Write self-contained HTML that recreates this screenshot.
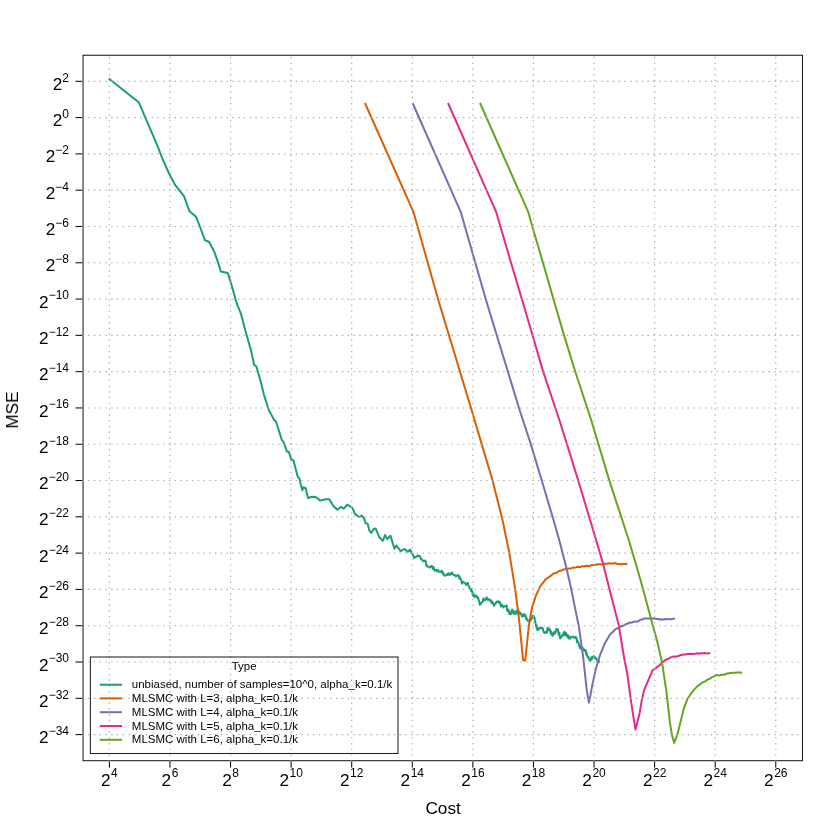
<!DOCTYPE html>
<html><head><meta charset="utf-8"><title>MSE vs Cost</title>
<style>html,body{margin:0;padding:0;background:#fff}body{width:830px;height:830px;overflow:hidden;font-family:"Liberation Sans",sans-serif}</style>
</head><body>
<svg width="830" height="830" viewBox="0 0 830 830" style="display:block">
<rect width="830" height="830" fill="#fff"/>
<g fill="none" stroke-width="2" stroke-linejoin="round" stroke-linecap="butt">
<path d="M108.7,78.5 L138.7,102.2 L157.8,146.7 L163.0,160.0 L168.8,173.0 L174.9,184.6 L184.0,196.1 L189.3,210.9 L196.0,216.7 L199.9,226.5 L204.9,240.2 L209.0,241.7 L214.3,251.8 L217.9,261.9 L220.8,271.5 L227.7,273.0 L231.0,283.1 L236.7,303.4 L241.1,314.2 L245.4,330.8 L251.2,351.1 L254.1,364.8 L256.3,366.3 L260.3,380.0 L263.9,394.6 L268.9,410.5 L271.1,414.1 L274.0,419.9 L275.9,421.3 L281.9,440.1 L283.4,441.6 L287.0,451.7 L288.9,451.7 L291.3,459.6 L293.5,460.4 L297.8,477.0 L299.3,478.1 L300.8,484.5 L302.3,490.2 L303.3,487.3 L305.6,488.1 L308.1,498.2 L311.0,497.0 L315.3,496.7 L320.4,500.6 L325.4,499.3 L329.3,499.2 L333.4,506.1 L337.4,509.8 L340.9,506.9 L343.8,508.7 L347.1,504.7 L352.2,507.6 L355.1,514.1 L359.1,517.0 L361.6,515.5 L363.7,517.7 L365.6,523.1 L367.6,523.8 L369.5,530.7 L371.0,532.9 L373.9,528.8 L375.7,528.6 L379.3,537.2 L382.8,540.8 L385.0,535.1 L387.2,539.1 L390.5,535.8 L394.4,548.8 L394.9,548.0 L395.4,547.1 L395.8,546.3 L396.3,545.5 L396.9,546.1 L397.5,547.1 L398.1,547.9 L398.8,548.5 L399.4,549.6 L400.0,550.2 L400.6,551.2 L401.5,550.7 L402.3,550.0 L403.2,549.5 L404.0,549.4 L404.9,549.0 L405.5,550.0 L406.0,550.0 L406.6,550.8 L407.2,551.8 L407.9,551.4 L408.6,551.3 L409.4,550.2 L410.1,549.6 L410.5,550.3 L410.9,552.0 L411.3,551.4 L411.7,553.5 L412.1,553.4 L412.6,554.0 L413.0,554.8 L413.4,555.9 L413.8,557.6 L414.2,557.9 L415.0,556.8 L415.8,557.1 L416.5,556.7 L417.3,555.6 L418.1,555.4 L418.7,556.2 L419.4,555.8 L420.0,556.5 L420.6,557.6 L421.2,559.5 L421.9,559.6 L422.5,560.0 L423.1,561.2 L424.2,561.1 L425.3,560.5 L425.5,561.3 L425.8,561.9 L426.0,564.2 L426.2,564.9 L426.5,564.6 L426.7,566.3 L427.7,566.6 L428.6,566.5 L429.6,567.6 L430.6,567.2 L431.5,565.9 L432.5,566.6 L433.0,569.0 L433.5,566.9 L434.1,568.7 L434.6,570.7 L435.1,570.6 L436.1,569.7 L437.1,571.2 L438.0,569.9 L439.0,571.8 L439.9,572.0 L440.7,571.9 L441.6,570.6 L442.1,571.7 L442.7,573.6 L443.2,572.5 L443.7,574.7 L444.3,575.2 L444.8,575.7 L445.7,575.4 L446.6,574.3 L447.5,575.0 L448.4,573.2 L449.3,575.0 L450.2,573.5 L451.0,574.4 L451.9,572.4 L452.8,574.2 L453.8,575.1 L454.8,575.0 L455.8,576.4 L456.8,575.9 L457.8,574.9 L458.2,574.9 L458.7,576.2 L459.1,578.0 L459.6,576.5 L460.0,579.0 L460.4,578.7 L460.9,579.4 L461.3,580.0 L461.8,583.5 L462.2,583.3 L463.2,581.9 L464.2,582.5 L465.2,583.1 L466.2,585.0 L467.2,583.6 L467.8,582.8 L468.4,585.1 L469.0,586.3 L469.6,588.5 L470.2,589.1 L470.8,588.7 L471.2,591.0 L471.5,589.6 L471.9,590.9 L472.3,591.6 L472.6,594.5 L473.0,595.7 L473.4,593.4 L473.8,594.3 L474.1,595.4 L474.5,597.3 L475.6,595.5 L476.6,595.9 L477.0,596.7 L477.4,598.0 L477.8,597.6 L478.2,597.5 L478.6,600.0 L479.0,600.7 L479.4,602.4 L479.8,604.8 L480.2,603.9 L480.8,603.9 L481.4,602.5 L482.0,602.2 L482.7,601.7 L483.3,598.4 L483.9,599.5 L484.8,600.4 L485.8,599.2 L486.7,597.3 L487.4,599.6 L488.2,600.0 L488.9,599.1 L489.7,599.8 L490.4,601.0 L491.0,600.2 L491.6,603.2 L492.2,601.7 L492.8,602.5 L493.4,603.9 L494.0,606.0 L494.7,604.0 L495.4,604.1 L496.1,602.3 L496.9,601.5 L497.6,601.5 L498.3,602.4 L498.9,601.3 L499.6,603.1 L500.2,602.3 L500.9,606.6 L501.5,606.1 L502.1,604.7 L502.8,605.8 L503.4,607.5 L504.4,606.4 L505.3,606.0 L506.3,606.2 L506.6,605.4 L507.0,609.5 L507.3,611.0 L507.7,609.5 L508.0,610.5 L508.4,609.6 L508.7,610.5 L509.1,612.4 L509.4,614.0 L510.1,612.4 L510.8,614.3 L511.6,610.7 L512.3,609.5 L513.0,611.1 L513.5,613.9 L514.1,612.7 L514.7,611.7 L515.2,614.0 L515.9,613.6 L516.6,610.7 L517.4,612.4 L518.1,613.9 L518.8,611.1 L519.3,613.6 L519.8,613.7 L520.2,612.5 L520.7,613.8 L521.2,613.7 L521.7,616.1 L522.4,616.6 L523.2,614.8 L523.9,614.0 L524.5,616.1 L525.0,614.9 L525.6,615.3 L526.1,618.9 L526.7,618.3 L527.7,621.0 L528.6,620.9 L529.6,619.8 L530.3,620.5 L531.1,619.8 L531.8,618.7 L532.6,615.6 L533.3,616.1 L533.6,617.1 L533.9,617.3 L534.2,616.7 L534.5,617.6 L534.8,619.7 L535.1,620.6 L535.4,622.6 L535.8,624.4 L536.1,626.5 L536.5,625.1 L536.8,628.3 L537.2,629.4 L537.6,630.2 L537.9,628.4 L538.3,629.9 L539.3,628.1 L540.2,627.6 L541.2,628.4 L541.9,627.6 L542.7,628.3 L543.4,630.9 L544.1,632.8 L544.8,633.1 L545.6,632.1 L546.3,632.8 L546.6,632.7 L547.0,632.5 L547.3,628.3 L547.7,630.1 L548.0,630.4 L548.4,627.7 L548.9,629.8 L549.3,630.5 L549.8,630.0 L550.2,629.5 L550.6,633.1 L551.1,631.8 L551.5,634.8 L552.0,634.2 L552.7,635.8 L553.5,632.5 L554.2,631.9 L554.9,633.8 L555.6,632.2 L556.4,629.0 L557.1,629.9 L557.6,629.1 L558.0,630.1 L558.5,634.5 L558.9,634.9 L559.4,632.8 L559.8,636.8 L560.2,638.4 L560.7,637.1 L561.4,637.2 L562.2,635.2 L562.9,635.5 L563.6,632.9 L564.3,631.8 L565.1,635.6 L565.8,632.8 L566.3,634.2 L566.9,634.4 L567.4,637.0 L568.0,635.4 L568.5,638.1 L569.0,638.6 L569.6,636.5 L570.1,638.6 L571.1,637.2 L572.1,637.0 L573.2,636.5 L574.2,637.8 L575.2,637.1 L575.7,636.8 L576.1,638.4 L576.5,637.8 L577.0,642.2 L577.5,640.5 L577.9,641.8 L578.3,643.2 L578.8,643.6 L579.2,646.3 L579.6,644.9 L580.0,648.0 L580.5,646.9 L580.9,647.9 L581.3,648.7 L581.7,649.4 L582.6,647.7 L583.5,650.2 L584.4,649.6 L585.3,651.6 L585.7,650.2 L586.2,654.7 L586.6,652.7 L587.0,654.9 L587.5,656.9 L587.9,657.0 L588.3,656.8 L588.7,658.6 L589.2,659.6 L589.6,660.2 L590.5,660.9 L591.3,657.2 L592.2,658.7 L593.0,656.6 L593.9,656.2 L594.7,656.6 L595.3,658.6 L596.0,658.1 L596.6,659.1 L597.2,660.7 L597.9,662.1 L598.5,660.7 L599.2,662.2 L599.8,662.4" stroke="#1B9E77"/>
<path d="M364.9,103.0 L413.4,211.8 L438.3,300.0 L471.6,410.0 L481.7,444.1 L492.5,480.2 L502.5,520.0 L509.4,553.3 L515.2,589.4 L518.7,616.0 L523.1,660.2 L525.2,660.6 L528.7,627.0 L530.8,614.0 L532.3,606.5 L534.0,601.7 L535.9,595.7 L540.2,586.3 L541.2,585.1 L542.1,583.9 L543.1,582.7 L544.1,581.4 L545.0,580.2 L546.0,579.0 L547.3,578.3 L548.7,577.2 L550.0,576.4 L551.3,575.4 L552.7,574.1 L554.0,573.3 L555.5,573.1 L557.1,572.5 L558.6,571.3 L560.1,570.8 L561.7,570.5 L563.2,569.6 L564.8,569.2 L566.3,568.5 L567.9,568.8 L569.5,568.6 L571.1,568.5 L572.7,567.5 L574.3,567.8 L575.9,567.4 L577.5,566.7 L579.1,567.1 L580.7,566.9 L582.3,566.1 L583.9,566.6 L585.5,565.9 L587.1,565.8 L588.8,566.1 L590.4,565.7 L592.0,565.0 L593.6,565.0 L595.2,564.9 L596.8,564.6 L598.5,564.3 L600.1,564.2 L601.8,564.4 L603.4,563.6 L605.1,563.9 L606.7,563.6 L608.4,563.2 L610.2,563.4 L611.9,563.6 L613.7,563.5 L615.4,563.0 L617.2,564.1 L619.0,564.1 L620.8,564.5 L622.6,563.9 L624.2,564.0 L625.7,563.8 L627.3,564.4" stroke="#D95F02"/>
<path d="M412.6,103.0 L460.7,211.8 L486.0,300.0 L519.6,410.0 L530.8,444.1 L541.7,480.2 L553.5,520.0 L559.2,540.0 L566.3,567.5 L571.3,589.2 L575.2,608.9 L578.8,626.2 L583.1,656.5 L586.7,689.6 L588.9,702.6 L590.4,695.4 L592.5,683.9 L596.1,667.9 L599.8,655.7 L604.8,643.4 L605.6,641.9 L606.5,640.4 L607.3,639.0 L608.2,637.7 L609.0,636.2 L609.9,634.6 L611.0,633.4 L612.0,632.8 L613.1,631.5 L614.2,630.5 L615.5,629.3 L616.8,628.4 L618.1,628.2 L619.4,627.2 L620.7,626.1 L622.2,626.3 L623.6,625.4 L625.0,624.9 L626.5,623.7 L628.0,623.7 L629.4,622.4 L631.1,622.8 L632.9,622.0 L634.6,621.6 L636.4,621.4 L638.1,621.4 L639.5,620.2 L641.0,619.6 L642.5,619.4 L643.9,618.6 L645.8,618.4 L647.7,618.5 L649.6,618.4 L651.3,618.4 L653.0,618.4 L654.7,618.3 L656.4,619.1 L658.1,619.0 L659.8,619.5 L661.6,619.2 L663.4,619.4 L665.2,619.1 L667.0,619.3 L668.6,618.9 L670.2,619.4 L671.7,619.1 L673.3,618.7 L674.9,618.8" stroke="#7570B3"/>
<path d="M448.0,103.0 L496.1,211.8 L510.0,259.3 L525.1,310.0 L543.1,371.4 L559.4,420.0 L578.2,480.4 L596.1,540.0 L603.1,563.9 L610.4,592.8 L618.6,624.6 L624.5,660.0 L627.2,673.3 L631.6,705.1 L635.5,729.6 L639.5,713.7 L641.7,700.7 L643.9,690.6 L648.2,680.5 L648.8,679.1 L649.4,677.6 L650.0,676.2 L650.7,674.7 L651.3,673.3 L651.9,671.9 L652.5,670.4 L653.8,669.5 L655.0,668.6 L656.3,667.8 L657.6,666.6 L658.8,666.0 L659.9,664.9 L661.1,663.8 L662.2,662.6 L663.4,661.6 L664.8,660.5 L666.3,659.7 L667.7,658.9 L669.2,658.6 L670.6,657.4 L672.3,656.9 L674.0,656.4 L675.7,656.7 L677.3,656.3 L679.0,655.8 L680.7,655.0 L682.4,654.8 L684.0,654.6 L685.7,654.5 L687.3,654.0 L689.0,654.1 L690.6,653.7 L692.3,654.1 L694.0,654.1 L695.7,653.6 L697.3,653.3 L699.0,653.9 L700.7,653.2 L702.4,653.2 L704.5,653.1 L706.7,653.6 L708.5,653.3 L710.3,652.9" stroke="#E7298A"/>
<path d="M480.0,103.0 L528.1,211.6 L532.4,226.7 L543.0,262.9 L553.7,300.0 L564.1,335.4 L575.2,371.5 L591.2,420.0 L609.3,480.4 L628.8,540.0 L640.0,578.3 L646.0,600.0 L652.5,624.6 L656.9,640.0 L661.9,661.7 L666.3,690.6 L669.9,722.4 L672.0,735.4 L674.2,742.9 L677.1,735.4 L680.0,723.9 L683.6,709.4 L687.2,699.3 L688.1,698.0 L689.0,696.7 L689.8,695.4 L690.7,694.1 L691.6,692.8 L692.6,691.6 L693.6,690.3 L694.6,689.1 L695.6,688.1 L696.6,686.9 L698.0,685.9 L699.5,684.7 L701.0,683.7 L702.4,682.5 L704.0,681.8 L705.6,681.1 L707.2,679.8 L708.8,678.9 L710.4,678.6 L712.0,677.0 L713.7,676.6 L715.3,675.6 L716.9,674.9 L718.4,675.4 L720.0,675.3 L721.6,674.8 L723.1,674.7 L724.7,674.6 L726.5,673.6 L728.3,673.5 L730.1,673.0 L731.9,672.9 L733.5,672.8 L735.1,672.7 L736.7,672.4 L738.3,672.6 L739.9,672.4 L742.0,672.8" stroke="#66A61E"/>
</g>
<rect x="83.05" y="55.25" width="719.45" height="705.45" fill="none" stroke="#1c1c1c" stroke-width="1.05"/>
<g stroke="#000" stroke-width="1" fill="none">
<line x1="109.40" y1="760.7" x2="109.40" y2="767.7"/>
<line x1="169.98" y1="760.7" x2="169.98" y2="767.7"/>
<line x1="230.56" y1="760.7" x2="230.56" y2="767.7"/>
<line x1="291.14" y1="760.7" x2="291.14" y2="767.7"/>
<line x1="351.72" y1="760.7" x2="351.72" y2="767.7"/>
<line x1="412.30" y1="760.7" x2="412.30" y2="767.7"/>
<line x1="472.88" y1="760.7" x2="472.88" y2="767.7"/>
<line x1="533.46" y1="760.7" x2="533.46" y2="767.7"/>
<line x1="594.04" y1="760.7" x2="594.04" y2="767.7"/>
<line x1="654.62" y1="760.7" x2="654.62" y2="767.7"/>
<line x1="715.20" y1="760.7" x2="715.20" y2="767.7"/>
<line x1="775.78" y1="760.7" x2="775.78" y2="767.7"/>
<line x1="83.05" y1="81.31" x2="75.55" y2="81.31"/>
<line x1="83.05" y1="117.60" x2="75.55" y2="117.60"/>
<line x1="83.05" y1="153.89" x2="75.55" y2="153.89"/>
<line x1="83.05" y1="190.19" x2="75.55" y2="190.19"/>
<line x1="83.05" y1="226.48" x2="75.55" y2="226.48"/>
<line x1="83.05" y1="262.78" x2="75.55" y2="262.78"/>
<line x1="83.05" y1="299.07" x2="75.55" y2="299.07"/>
<line x1="83.05" y1="335.36" x2="75.55" y2="335.36"/>
<line x1="83.05" y1="371.66" x2="75.55" y2="371.66"/>
<line x1="83.05" y1="407.95" x2="75.55" y2="407.95"/>
<line x1="83.05" y1="444.25" x2="75.55" y2="444.25"/>
<line x1="83.05" y1="480.54" x2="75.55" y2="480.54"/>
<line x1="83.05" y1="516.83" x2="75.55" y2="516.83"/>
<line x1="83.05" y1="553.13" x2="75.55" y2="553.13"/>
<line x1="83.05" y1="589.42" x2="75.55" y2="589.42"/>
<line x1="83.05" y1="625.72" x2="75.55" y2="625.72"/>
<line x1="83.05" y1="662.01" x2="75.55" y2="662.01"/>
<line x1="83.05" y1="698.30" x2="75.55" y2="698.30"/>
<line x1="83.05" y1="734.60" x2="75.55" y2="734.60"/>
</g>
<g font-family="Liberation Sans, sans-serif" fill="#000" opacity="0.999">
<text x="109.40" y="785.5" text-anchor="middle" font-size="17.2">2<tspan dy="-8.2" dx="0.5" font-size="12.0">4</tspan></text>
<text x="169.98" y="785.5" text-anchor="middle" font-size="17.2">2<tspan dy="-8.2" dx="0.5" font-size="12.0">6</tspan></text>
<text x="230.56" y="785.5" text-anchor="middle" font-size="17.2">2<tspan dy="-8.2" dx="0.5" font-size="12.0">8</tspan></text>
<text x="291.14" y="785.5" text-anchor="middle" font-size="17.2">2<tspan dy="-8.2" dx="0.5" font-size="12.0">10</tspan></text>
<text x="351.72" y="785.5" text-anchor="middle" font-size="17.2">2<tspan dy="-8.2" dx="0.5" font-size="12.0">12</tspan></text>
<text x="412.30" y="785.5" text-anchor="middle" font-size="17.2">2<tspan dy="-8.2" dx="0.5" font-size="12.0">14</tspan></text>
<text x="472.88" y="785.5" text-anchor="middle" font-size="17.2">2<tspan dy="-8.2" dx="0.5" font-size="12.0">16</tspan></text>
<text x="533.46" y="785.5" text-anchor="middle" font-size="17.2">2<tspan dy="-8.2" dx="0.5" font-size="12.0">18</tspan></text>
<text x="594.04" y="785.5" text-anchor="middle" font-size="17.2">2<tspan dy="-8.2" dx="0.5" font-size="12.0">20</tspan></text>
<text x="654.62" y="785.5" text-anchor="middle" font-size="17.2">2<tspan dy="-8.2" dx="0.5" font-size="12.0">22</tspan></text>
<text x="715.20" y="785.5" text-anchor="middle" font-size="17.2">2<tspan dy="-8.2" dx="0.5" font-size="12.0">24</tspan></text>
<text x="775.78" y="785.5" text-anchor="middle" font-size="17.2">2<tspan dy="-8.2" dx="0.5" font-size="12.0">26</tspan></text>
<text x="69.0" y="89.91" text-anchor="end" font-size="17.2">2<tspan dy="-8.2" font-size="12.0">2</tspan></text>
<text x="69.0" y="126.20" text-anchor="end" font-size="17.2">2<tspan dy="-8.2" font-size="12.0">0</tspan></text>
<text x="69.0" y="162.49" text-anchor="end" font-size="17.2">2<tspan dy="-8.2" font-size="12.0">−2</tspan></text>
<text x="69.0" y="198.79" text-anchor="end" font-size="17.2">2<tspan dy="-8.2" font-size="12.0">−4</tspan></text>
<text x="69.0" y="235.08" text-anchor="end" font-size="17.2">2<tspan dy="-8.2" font-size="12.0">−6</tspan></text>
<text x="69.0" y="271.38" text-anchor="end" font-size="17.2">2<tspan dy="-8.2" font-size="12.0">−8</tspan></text>
<text x="69.0" y="307.67" text-anchor="end" font-size="17.2">2<tspan dy="-8.2" font-size="12.0">−10</tspan></text>
<text x="69.0" y="343.96" text-anchor="end" font-size="17.2">2<tspan dy="-8.2" font-size="12.0">−12</tspan></text>
<text x="69.0" y="380.26" text-anchor="end" font-size="17.2">2<tspan dy="-8.2" font-size="12.0">−14</tspan></text>
<text x="69.0" y="416.55" text-anchor="end" font-size="17.2">2<tspan dy="-8.2" font-size="12.0">−16</tspan></text>
<text x="69.0" y="452.85" text-anchor="end" font-size="17.2">2<tspan dy="-8.2" font-size="12.0">−18</tspan></text>
<text x="69.0" y="489.14" text-anchor="end" font-size="17.2">2<tspan dy="-8.2" font-size="12.0">−20</tspan></text>
<text x="69.0" y="525.43" text-anchor="end" font-size="17.2">2<tspan dy="-8.2" font-size="12.0">−22</tspan></text>
<text x="69.0" y="561.73" text-anchor="end" font-size="17.2">2<tspan dy="-8.2" font-size="12.0">−24</tspan></text>
<text x="69.0" y="598.02" text-anchor="end" font-size="17.2">2<tspan dy="-8.2" font-size="12.0">−26</tspan></text>
<text x="69.0" y="634.32" text-anchor="end" font-size="17.2">2<tspan dy="-8.2" font-size="12.0">−28</tspan></text>
<text x="69.0" y="670.61" text-anchor="end" font-size="17.2">2<tspan dy="-8.2" font-size="12.0">−30</tspan></text>
<text x="69.0" y="706.90" text-anchor="end" font-size="17.2">2<tspan dy="-8.2" font-size="12.0">−32</tspan></text>
<text x="69.0" y="743.20" text-anchor="end" font-size="17.2">2<tspan dy="-8.2" font-size="12.0">−34</tspan></text>
<text x="443.1" y="813.7" text-anchor="middle" font-size="17.2">Cost</text>
<text transform="translate(18.0,410.2) rotate(-90)" text-anchor="middle" font-size="17.2">MSE</text>
</g>
<g stroke="#adadad" stroke-width="1.15" stroke-dasharray="1.4 4.366" fill="none">
<line x1="109.40" y1="761.6" x2="109.40" y2="55.75"/>
<line x1="169.98" y1="761.6" x2="169.98" y2="55.75"/>
<line x1="230.56" y1="761.6" x2="230.56" y2="55.75"/>
<line x1="291.14" y1="761.6" x2="291.14" y2="55.75"/>
<line x1="351.72" y1="761.6" x2="351.72" y2="55.75"/>
<line x1="412.30" y1="761.6" x2="412.30" y2="55.75"/>
<line x1="472.88" y1="761.6" x2="472.88" y2="55.75"/>
<line x1="533.46" y1="761.6" x2="533.46" y2="55.75"/>
<line x1="594.04" y1="761.6" x2="594.04" y2="55.75"/>
<line x1="654.62" y1="761.6" x2="654.62" y2="55.75"/>
<line x1="715.20" y1="761.6" x2="715.20" y2="55.75"/>
<line x1="775.78" y1="761.6" x2="775.78" y2="55.75"/>
<line x1="82.35" y1="81.31" x2="802.0" y2="81.31"/>
<line x1="82.35" y1="117.60" x2="802.0" y2="117.60"/>
<line x1="82.35" y1="153.89" x2="802.0" y2="153.89"/>
<line x1="82.35" y1="190.19" x2="802.0" y2="190.19"/>
<line x1="82.35" y1="226.48" x2="802.0" y2="226.48"/>
<line x1="82.35" y1="262.78" x2="802.0" y2="262.78"/>
<line x1="82.35" y1="299.07" x2="802.0" y2="299.07"/>
<line x1="82.35" y1="335.36" x2="802.0" y2="335.36"/>
<line x1="82.35" y1="371.66" x2="802.0" y2="371.66"/>
<line x1="82.35" y1="407.95" x2="802.0" y2="407.95"/>
<line x1="82.35" y1="444.25" x2="802.0" y2="444.25"/>
<line x1="82.35" y1="480.54" x2="802.0" y2="480.54"/>
<line x1="82.35" y1="516.83" x2="802.0" y2="516.83"/>
<line x1="82.35" y1="553.13" x2="802.0" y2="553.13"/>
<line x1="82.35" y1="589.42" x2="802.0" y2="589.42"/>
<line x1="82.35" y1="625.72" x2="802.0" y2="625.72"/>
<line x1="82.35" y1="662.01" x2="802.0" y2="662.01"/>
<line x1="82.35" y1="698.30" x2="802.0" y2="698.30"/>
<line x1="82.35" y1="734.60" x2="802.0" y2="734.60"/>
</g>
<rect x="90.4" y="657" width="307.6" height="96.5" fill="none" stroke="#222" stroke-width="1.05"/>
<g font-family="Liberation Sans, sans-serif" fill="#000" font-size="11.5" opacity="0.999">
<text x="244.2" y="670.2" text-anchor="middle">Type</text>
<line x1="99.8" y1="684.7" x2="122" y2="684.7" stroke="#1B9E77" stroke-width="2"/>
<text x="131.8" y="688.2">unbiased, number of samples=10^0, alpha_k=0.1/k</text>
<line x1="99.8" y1="698.4" x2="122" y2="698.4" stroke="#D95F02" stroke-width="2"/>
<text x="131.8" y="701.9">MLSMC with L=3, alpha_k=0.1/k</text>
<line x1="99.8" y1="712.2" x2="122" y2="712.2" stroke="#7570B3" stroke-width="2"/>
<text x="131.8" y="715.7">MLSMC with L=4, alpha_k=0.1/k</text>
<line x1="99.8" y1="726.0" x2="122" y2="726.0" stroke="#E7298A" stroke-width="2"/>
<text x="131.8" y="729.5">MLSMC with L=5, alpha_k=0.1/k</text>
<line x1="99.8" y1="739.8" x2="122" y2="739.8" stroke="#66A61E" stroke-width="2"/>
<text x="131.8" y="743.3">MLSMC with L=6, alpha_k=0.1/k</text>
</g>
</svg>
</body></html>
